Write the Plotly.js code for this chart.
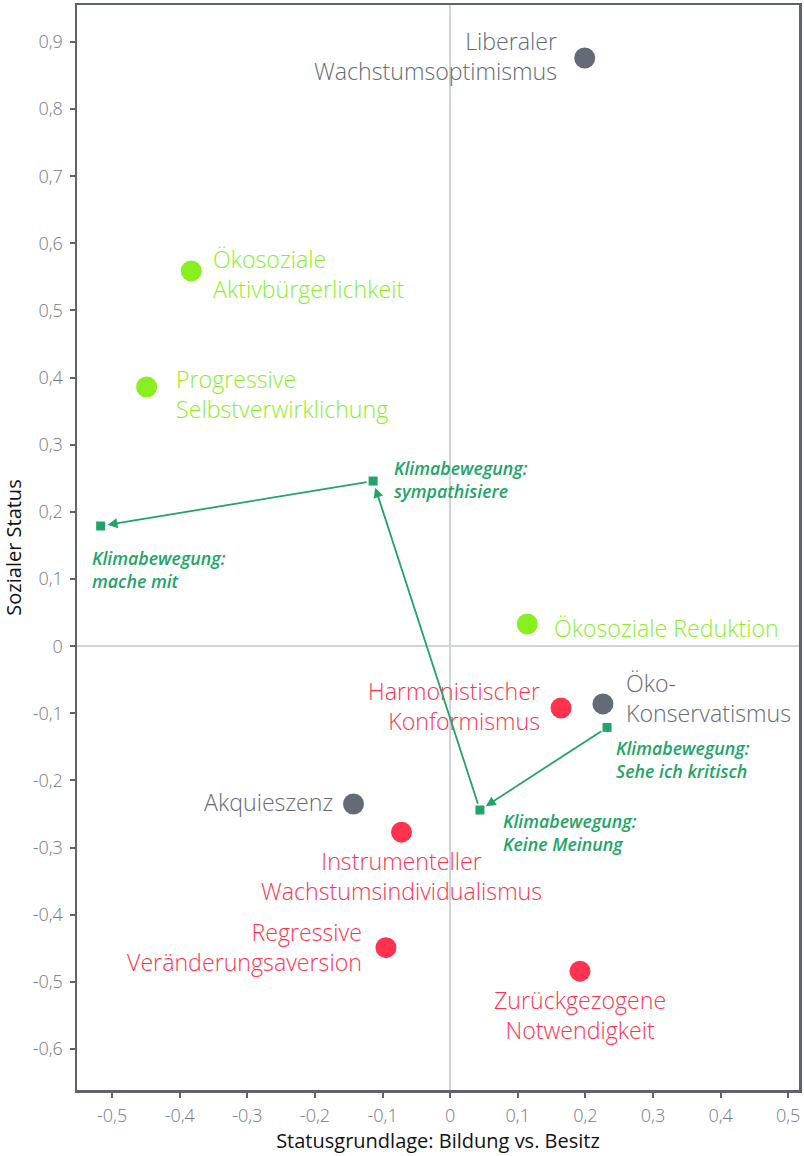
<!DOCTYPE html>
<html>
<head>
<meta charset="utf-8">
<script src="https://cdn.plot.ly/plotly-3.0.1.min.js"></script>
<style>html,body{margin:0;padding:0;background:#fff;}#chart{width:804px;height:1156px;}</style>
</head>
<body>
<div id="chart"></div>
<script>
// Segment points (milieus)
const segNames = [
  "Liberaler<br>Wachstumsoptimismus",
  "Ökosoziale<br>Aktivbürgerlichkeit",
  "Progressive<br>Selbstverwirklichung",
  "Ökosoziale Reduktion",
  "Harmonistischer<br>Konformismus",
  "Öko-<br>Konservatismus",
  "Akquieszenz",
  "Instrumenteller<br>Wachstumsindividualismus",
  "Regressive<br>Veränderungsaversion",
  "Zurückgezogene<br>Notwendigkeit"
];
const segX = [0.199, -0.383, -0.449, 0.114, 0.164, 0.226, -0.143, -0.072, -0.095, 0.192];
const segY = [0.876, 0.559, 0.386, 0.033, -0.092, -0.086, -0.235, -0.277, -0.449, -0.484];
const segGroup = ["grau", "grün", "grün", "grün", "rot", "grau", "grau", "rot", "rot", "rot"];

// Klimabewegung positions
const klimaNames = [
  "Klimabewegung:<br>mache mit",
  "Klimabewegung:<br>sympathisiere",
  "Klimabewegung:<br>Keine Meinung",
  "Klimabewegung:<br>Sehe ich kritisch"
];
const klimaX = [-0.517, -0.114, 0.044, 0.232];
const klimaY = [0.179, 0.246, -0.244, -0.121];
// arrows: from index -> to index
const klimaArrows = [[3, 2], [2, 1], [1, 0]];

const xTicks = [-0.5, -0.4, -0.3, -0.2, -0.1, 0, 0.1, 0.2, 0.3, 0.4, 0.5];
const xTickText = ["-0,5", "-0,4", "-0,3", "-0,2", "-0,1", "0", "0,1", "0,2", "0,3", "0,4", "0,5"];
const yTicks = [0.9, 0.8, 0.7, 0.6, 0.5, 0.4, 0.3, 0.2, 0.1, 0, -0.1, -0.2, -0.3, -0.4, -0.5, -0.6];
const yTickText = ["0,9", "0,8", "0,7", "0,6", "0,5", "0,4", "0,3", "0,2", "0,1", "0", "-0,1", "-0,2", "-0,3", "-0,4", "-0,5", "-0,6"];

// styling
const groupColor = {"grau": "#646a76", "grün": "#8aef1f", "rot": "#ff3350"};
const klimaColor = "#22a466";
const labelFont = "Open Sans, Noto Sans, sans-serif";
// label placement per segment: [xanchor, yanchor, xshift, yshift, align]
const segPlace = [
  ["right", "middle", -26, 2, "right"],
  ["left", "middle", 20, -3, "left"],
  ["left", "middle", 27, -7, "left"],
  ["left", "middle", 25, -4, "left"],
  ["right", "middle", -19, 2, "right"],
  ["left", "middle", 21, 6, "left"],
  ["right", "middle", -19, 2, "right"],
  ["center", "top", 0, -11, "center"],
  ["right", "middle", -22, 1, "right"],
  ["center", "top", 0, -11, "center"]
];
const klimaPlace = [
  ["left", "top", -11, -18, "left"],
  ["left", "middle", 19, 2, "left"],
  ["left", "top", 21, 3, "left"],
  ["left", "top", 7, -7, "left"]
];

const traces = [];
["grau", "grün", "rot"].forEach(g => {
  const xs = [], ys = [];
  segGroup.forEach((gg, i) => { if (gg === g) { xs.push(segX[i]); ys.push(segY[i]); } });
  traces.push({
    type: "scatter", mode: "markers", x: xs, y: ys,
    marker: {size: 21, color: groupColor[g]}, hoverinfo: "skip", showlegend: false
  });
});
traces.push({
  type: "scatter", mode: "markers", x: klimaX, y: klimaY,
  marker: {size: 9, symbol: "square", color: klimaColor}, hoverinfo: "skip", showlegend: false
});

const annotations = [];
segNames.forEach((t, i) => {
  const p = segPlace[i];
  annotations.push({
    x: segX[i], y: segY[i], xref: "x", yref: "y", text: t, showarrow: false,
    xanchor: p[0], yanchor: p[1], xshift: p[2], yshift: p[3], align: p[4],
    font: {family: labelFont, size: 23.2, color: groupColor[segGroup[i]], weight: 300}
  });
});
klimaNames.forEach((t, i) => {
  const p = klimaPlace[i];
  annotations.push({
    x: klimaX[i], y: klimaY[i], xref: "x", yref: "y", text: t, showarrow: false,
    xanchor: p[0], yanchor: p[1], xshift: p[2], yshift: p[3], align: p[4],
    font: {family: labelFont, size: 17.8, color: klimaColor, weight: 600, style: "italic"}
  });
});
klimaArrows.forEach(a => {
  annotations.push({
    x: klimaX[a[1]], y: klimaY[a[1]], ax: klimaX[a[0]], ay: klimaY[a[0]],
    xref: "x", yref: "y", axref: "x", ayref: "y", text: "", showarrow: true,
    arrowhead: 2, arrowsize: 1.1, arrowwidth: 1.8, arrowcolor: klimaColor,
    standoff: 7, startstandoff: 5
  });
});

const axisCommon = {
  showline: true, linecolor: "#5d6470", linewidth: 2.5, mirror: true,
  ticks: "outside", ticklen: 5, tickwidth: 2, tickcolor: "#5d6470",
  showgrid: false, zeroline: true, zerolinecolor: "#cfd3da", zerolinewidth: 2,
  tickfont: {family: labelFont, size: 18, color: "#737a86", weight: 300}
};

const layout = {
  width: 804, height: 1156,
  margin: {l: 77, r: 5, t: 5, b: 66},
  paper_bgcolor: "#ffffff", plot_bgcolor: "#ffffff",
  separators: ",.",
  showlegend: false,
  xaxis: Object.assign({}, axisCommon, {
    range: [-0.552, 0.516], tickmode: "array", tickvals: xTicks, ticktext: xTickText, ticklabelstandoff: 3,
    title: {text: "Statusgrundlage: Bildung vs. Besitz", standoff: 8,
      font: {family: "Open Sans, sans-serif", size: 20, color: "#111"}}
  }),
  yaxis: Object.assign({}, axisCommon, {
    range: [-0.661, 0.955], tickmode: "array", tickvals: yTicks, ticktext: yTickText, ticklabelstandoff: 3,
    title: {text: "Sozialer Status", standoff: 8,
      font: {family: "Open Sans, sans-serif", size: 20, color: "#111"}}
  }),
  annotations: annotations
};

Plotly.newPlot("chart", traces, layout, {staticPlot: true, displayModeBar: false});
</script>
</body>
</html>
